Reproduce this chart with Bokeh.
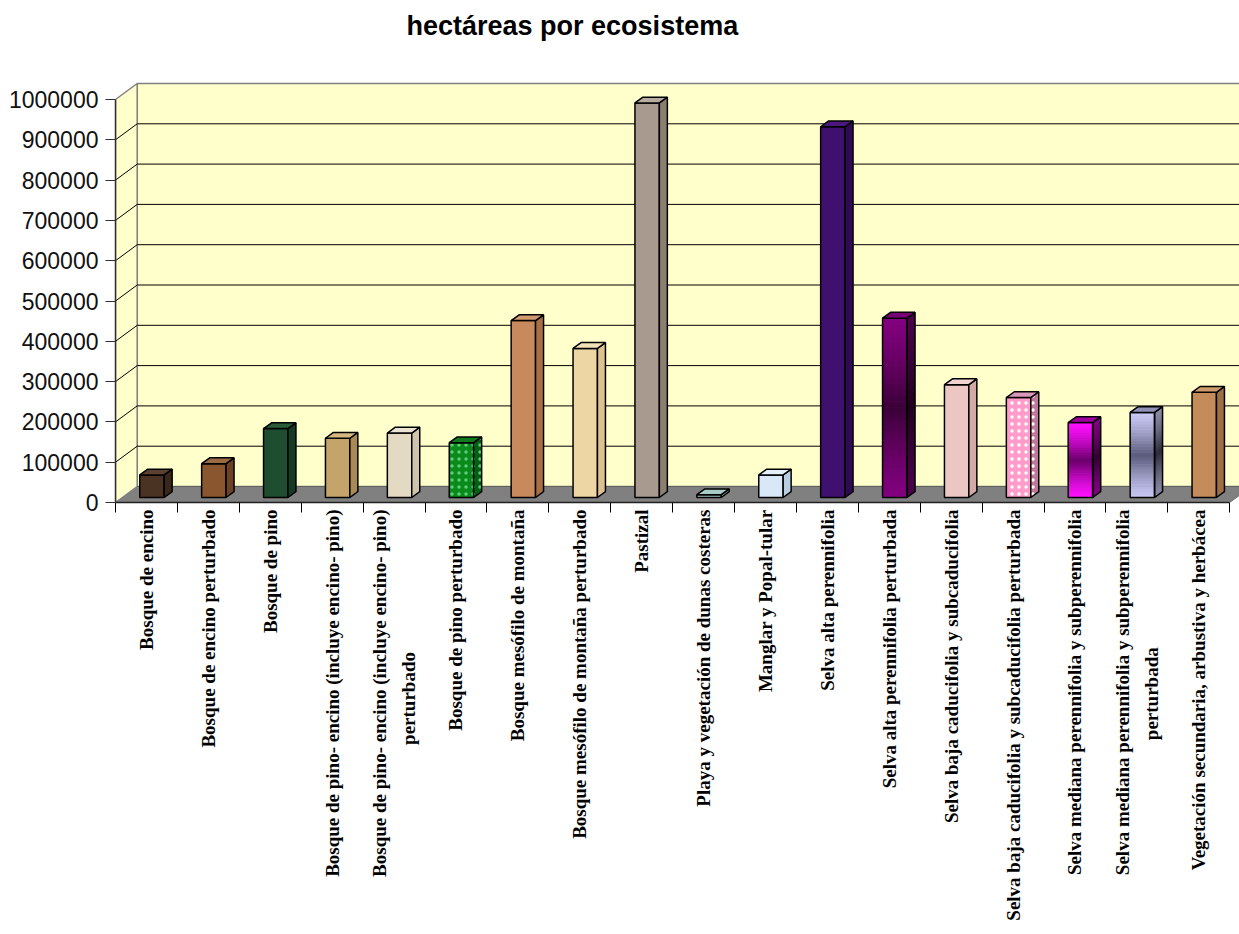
import numpy as np
from bokeh.plotting import figure
from bokeh.models import Range1d, FixedTicker, BasicTickFormatter
from bokeh.embed import file_html
from bokeh.resources import INLINE

# ---------------- data ----------------
title_text = "hectáreas por ecosistema"
categories = [
    "Bosque de encino",
    "Bosque de encino perturbado",
    "Bosque de pino",
    "Bosque de pino- encino (incluye encino- pino)",
    "Bosque de pino- encino (incluye encino- pino)\nperturbado",
    "Bosque de pino perturbado",
    "Bosque mesófilo de montaña",
    "Bosque mesófilo de montaña perturbado",
    "Pastizal",
    "Playa y vegetación de dunas costeras",
    "Manglar y Popal-tular",
    "Selva alta perennifolia",
    "Selva alta perennifolia perturbada",
    "Selva baja caducifolia y subcaducifolia",
    "Selva baja caducifolia y subcaducifolia perturbada",
    "Selva mediana perennifolia y subperennifolia",
    "Selva mediana perennifolia y subperennifolia\nperturbada",
    "Vegetación secundaria, arbustiva y herbácea",
]
hectares = [56000, 84000, 171000, 147000, 160000, 136000, 439000, 370000,
            979000, 7000, 56000, 920000, 445000, 280000, 248000, 186000,
            211000, 261000]
y_ticks = [0, 100000, 200000, 300000, 400000, 500000, 600000, 700000,
           800000, 900000, 1000000]

# ---------------- styles ----------------
front_colors = ["#4b3324", "#8a5630", "#1e4d30", "#c4a46a", "#e4dac4", "#0b8a1c",
                "#c88a5c", "#eed6a4", "#a89a8e", "#9fc2bf", "#d8e8f6", "#3f106e",
                "#82007f", "#ebc6c2", "#ff9ccc", "#ff10ff", "#c8c8f4", "#c48c5a"]
side_colors = ["#3a271b", "#6b4225", "#163a24", "#a88a55", "#cfc4ac", "#066014",
               "#a86e46", "#dcc290", "#8c7e72", "#7fa29f", "#b8cde0", "#2e0a52",
               "#4c004a", "#d4aaa6", "#c0789a", "#800080", "#8a8aa8", "#a06e44"]
top_colors = ["#5c4030", "#9a6a40", "#2a5c3a", "#d4b87e", "#ece4d2", "#0e7a1c",
              "#d29a70", "#f2e0b8", "#b8ab9f", "#a8cbc8", "#e4f0fa", "#4c1880",
              "#7a0078", "#f0d2ce", "#d898b8", "#a000a0", "#9090b8", "#cf9c6c"]
# gradient middle colours (front, side) for shaded bars
grad_mid = {12: ("#3a0038", "#1e001c"), 15: ("#6a006a", "#300030"),
            16: ("#5a5a7a", "#2a2a3a")}
dotted = {5: "#5ccc78", 14: "#ffffff"}

PX_PER_CAT = 61.9
UNITS_PER_PX = 100000 / 40.3
FRAME_LEFT, FRAME_TOP, FRAME_BOTTOM_BORDER = 115, 46, 432
W, H = 1239, 934

n = len(categories)
DX = 21.7 / PX_PER_CAT          # depth of the floor (x)
DY = 16 * UNITS_PER_PX          # depth of the floor (y)
BW = 24.4 / PX_PER_CAT          # bar width
BOX = 5.5 / PX_PER_CAT          # bar front-plane offset
BOY = 5.0 * UNITS_PER_PX
DDX = 8.0 / PX_PER_CAT          # bar depth
DDY = 5.8 * UNITS_PER_PX

x_start = -0.5
x_end = x_start + (W - FRAME_LEFT) / PX_PER_CAT
frame_h = H - FRAME_TOP - FRAME_BOTTOM_BORDER
y_end = frame_h * UNITS_PER_PX


def centre_lines(label):
    """Centre a wrapped second line under the first (labels are end-aligned)."""
    lines = label.split("\n")
    if len(lines) < 2:
        return label
    l1, l2 = lines[0], lines[1]
    pad = int(round((len(l1) - len(l2)) * 0.43 / 0.25 / 2))
    return l1 + "\n" + l2 + "\u00a0" * pad


p = figure(width=W, height=H, x_range=Range1d(x_start, x_end),
           y_range=Range1d(0, y_end), output_backend="svg",
           toolbar_location=None, min_border_left=FRAME_LEFT,
           min_border_right=0, min_border_top=FRAME_TOP,
           min_border_bottom=FRAME_BOTTOM_BORDER)
p.outline_line_color = None
p.xgrid.visible = False
p.ygrid.visible = False
p.background_fill_color = "white"
p.border_fill_color = "white"

# title
p.title.text = title_text
p.title.text_font = "Liberation Sans"
p.title.text_font_style = "bold"
p.title.text_font_size = "27px"
p.title.text_color = "black"
p.title.align = "left"
p.title.offset = 291
p.title.standoff = 12

ymax = y_ticks[-1]
xl, xr = -0.5, n - 0.5

# floor
p.patch([xl, xr, xr + DX, xl + DX], [0, 0, DY, DY],
        fill_color="#808080", line_color="#707070", line_width=1)
# back wall
p.patch([xl + DX, xr + DX, xr + DX, xl + DX], [DY, DY, ymax + DY, ymax + DY],
        fill_color="#ffffcc", line_color="#808080", line_width=1.5)
# side wall
p.patch([xl, xl + DX, xl + DX, xl], [0, DY, ymax + DY, ymax],
        fill_color="#ffffcc", line_color="#808080", line_width=1.5)

grid_vals = y_ticks[1:-1]
p.segment(x0=[xl + DX] * len(grid_vals), y0=[v + DY for v in grid_vals],
          x1=[xr + DX] * len(grid_vals), y1=[v + DY for v in grid_vals],
          line_color="#000000", line_width=1)
p.segment(x0=[xl] * len(grid_vals), y0=grid_vals,
          x1=[xl + DX] * len(grid_vals), y1=[v + DY for v in grid_vals],
          line_color="#000000", line_width=1)
# floor/back edge at 0
p.segment(x0=[xl + DX], y0=[DY], x1=[xr + DX], y1=[DY], line_color="#606060", line_width=1)


def mix(c1, c2, t):
    a = np.array([int(c1[i:i + 2], 16) for i in (1, 3, 5)], float)
    b = np.array([int(c2[i:i + 2], 16) for i in (1, 3, 5)], float)
    c = a + (b - a) * t
    return "#%02x%02x%02x" % tuple(int(round(v)) for v in c)


# bars
for i, v in enumerate(hectares):
    x0 = i - BW / 2 + BOX
    x1 = x0 + BW
    y0 = BOY
    y1 = v + BOY
    if i in grad_mid:
        fm, sm = grad_mid[i]
        nsl = 30
        edges = np.linspace(y0, y1, nsl + 1)
        for k in range(nsl):
            t = 1 - abs(((k + 0.5) / nsl) * 2 - 1)
            t = t ** 1.3
            fa, fb = edges[k], edges[k + 1]
            fc = mix(front_colors[i], fm, t)
            sc = mix(side_colors[i], sm, t)
            p.quad(left=[x0], right=[x1], bottom=[fa], top=[fb],
                   fill_color=fc, line_color=fc, line_width=1)
            p.patch([x1, x1 + DDX, x1 + DDX, x1], [fa, fa + DDY, fb + DDY, fb],
                    fill_color=sc, line_color=sc, line_width=1)
        p.quad(left=[x0], right=[x1], bottom=[y0], top=[y1],
               fill_color=None, line_color="black", line_width=1.5)
        p.patch([x1, x1 + DDX, x1 + DDX, x1], [y0, y0 + DDY, y1 + DDY, y1],
                fill_color=None, line_color="black", line_width=1.5)
    else:
        kw = {}
        if i in dotted:
            kw = dict(hatch_pattern="dot", hatch_color=dotted[i], hatch_scale=7,
                      hatch_weight=2)
        p.quad(left=[x0], right=[x1], bottom=[y0], top=[y1],
               fill_color=front_colors[i], line_color="black", line_width=1.5, **kw)
        p.patch([x1, x1 + DDX, x1 + DDX, x1], [y0, y0 + DDY, y1 + DDY, y1],
                fill_color=side_colors[i], line_color="black", line_width=1.5, **kw)
    p.patch([x0, x1, x1 + DDX, x0 + DDX], [y1, y1, y1 + DDY, y1 + DDY],
            fill_color=top_colors[i], line_color="black", line_width=1.5)

# y axis
ya = p.yaxis[0]
ya.ticker = FixedTicker(ticks=y_ticks, minor_ticks=[])
ya.formatter = BasicTickFormatter(use_scientific=False)
ya.bounds = (0, ymax)
ya.major_tick_out = 10
ya.major_tick_in = 0
ya.major_tick_line_color = "#303030"
ya.axis_line_color = "#303030"
ya.axis_line_width = 1.5
ya.major_label_text_font = "Liberation Sans"
ya.major_label_text_font_size = "23px"
ya.major_label_text_color = "#111111"
ya.major_label_standoff = 7

# x axis
xa = p.xaxis[0]
xa.ticker = FixedTicker(ticks=list(range(n)), minor_ticks=[i - 0.5 for i in range(n + 1)])
xa.major_label_overrides = {i: centre_lines(c) for i, c in enumerate(categories)}
xa.bounds = (xl, xr)
xa.major_tick_out = 0
xa.major_tick_in = 0
xa.minor_tick_out = 10
xa.minor_tick_in = 0
xa.minor_tick_line_color = "black"
xa.axis_line_color = "#202020"
xa.axis_line_width = 1.5
xa.major_label_orientation = np.pi / 2
xa.major_label_text_font = "Liberation Serif"
xa.major_label_text_font_style = "bold"
xa.major_label_text_font_size = "19px"
xa.major_label_text_line_height = 1.4
xa.major_label_text_color = "black"
xa.major_label_standoff = -3

open("out.html", "w").write(file_html(p, INLINE))
